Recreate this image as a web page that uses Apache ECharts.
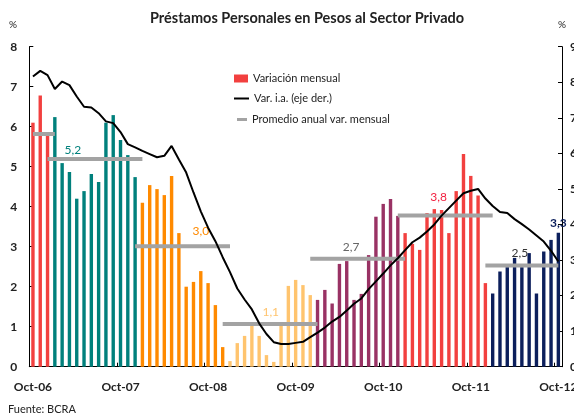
<!DOCTYPE html>
<html>
<head>
<meta charset="utf-8">
<script src="https://cdn.jsdelivr.net/npm/echarts@6/dist/echarts.min.js"></script>
<style>
  html, body { margin: 0; padding: 0; background: #fff; }
  #chart { width: 574px; height: 419px; }
</style>
</head>
<body>
<div id="chart"></div>
<script>
// months Oct-06 .. Oct-12
const years = ['2006', '2007', '2008', '2009', '2010', '2011', '2012']
const monthAbbr = ['Jan', 'Feb', 'Mar', 'Apr', 'May', 'Jun', 'Jul', 'Aug', 'Sep', 'Oct', 'Nov', 'Dec']

// Variación mensual (%), one list per year
const var2006 = [6.10, 6.78, 5.87]
const var2007 = [6.24, 5.09, 4.87, 4.20, 4.39, 4.82, 4.62, 6.10, 6.29, 5.67, 5.29, 4.74]
const var2008 = [4.10, 4.54, 4.44, 4.29, 4.77, 3.34, 2.00, 2.12, 2.39, 2.09, 1.54, 0.49]
const var2009 = [0.14, 0.59, 0.77, 1.03, 0.77, 0.29, 0.12, 1.03, 2.02, 2.17, 2.04, 1.79]
const var2010 = [1.67, 1.92, 1.58, 2.57, 2.64, 1.67, 1.82, 2.79, 3.75, 4.07, 4.19, 3.77]
const var2011 = [3.34, 3.07, 2.92, 3.84, 3.94, 3.92, 3.34, 4.39, 5.32, 4.77, 4.28, 2.09]
const var2012 = [1.83, 2.38, 2.49, 2.72, 2.49, 2.84, 1.83, 2.88, 3.17, 3.35]
const monthlyByYear = [var2006, var2007, var2008, var2009, var2010, var2011, var2012]

// Var. i.a. (eje der.)
const yoy2006 = [8.16, 8.32, 8.20]
const yoy2007 = [7.81, 8.02, 7.92, 7.60, 7.31, 7.29, 7.13, 6.90, 6.85, 6.60, 6.26, 6.17]
const yoy2008 = [6.07, 5.98, 5.89, 5.93, 6.21, 5.83, 5.46, 4.90, 4.37, 3.91, 3.53, 3.08]
const yoy2009 = [2.66, 2.20, 1.89, 1.61, 1.22, 0.92, 0.69, 0.64, 0.64, 0.67, 0.70, 0.83]
const yoy2010 = [0.96, 1.10, 1.27, 1.40, 1.58, 1.77, 1.92, 2.18, 2.40, 2.62, 2.85, 3.05]
const yoy2011 = [3.28, 3.50, 3.63, 3.80, 4.00, 4.25, 4.46, 4.67, 4.88, 4.95, 5.00, 4.73]
const yoy2012 = [4.52, 4.35, 4.32, 4.15, 4.01, 3.86, 3.69, 3.52, 3.26, 2.96]
const yoyByYear = [yoy2006, yoy2007, yoy2008, yoy2009, yoy2010, yoy2011, yoy2012]

// Promedio anual var. mensual
const avgValues = [5.82, 5.19, 3.01, 1.07, 2.70, 3.78, 2.53]
const avgLabels = ['', '5,2', '3,0', '1,1', '2,7', '3,8', '2,5']
const lastBarLabel = '3,3'

// colors per year
const yearColors = ['#f2403f', '#00807c', '#ff8a00', '#ffc46e', '#993264', '#f2403f', '#0c1f5c']
const avgLabelColors = ['#888', '#00807c', '#ff8a00', '#ffc46e', '#666666', '#f2203f', '#333333']
// where each avg label sits: category index, x offset, distance above line
const avgLabelPos = [null, [5, 3.5, 3], [23, 0, 9], [33, -3, 6], [44, -3, 6], [56, -3, 12], [67, -2, 6]]

const months = []
const barData = []
const yoyData = []
const yearRanges = []

monthlyByYear.forEach((vals, y) => {
  const firstMonth = y === 0 ? 9 : 0
  const start = months.length
  vals.forEach((v, i) => {
    months.push(monthAbbr[firstMonth + i] + '-' + years[y].slice(2))
    barData.push({ value: v, itemStyle: { color: yearColors[y] } })
    yoyData.push(yoyByYear[y][i])
  })
  yearRanges.push([start, months.length - 1])
})

// label on last bar
barData[barData.length - 1].label = {
  show: true,
  position: 'top',
  distance: 4,
  formatter: lastBarLabel,
  color: '#0c1f5c',
  fontWeight: 'bold',
  fontSize: 12
}

const n = months.length
const avgSeries = avgValues.map((v, y) => {
  const [s, e] = yearRanges[y]
  const from = Math.max(0, s - 1)
  const to = Math.min(n - 1, e + 1)
  const data = months.map((m, i) => (i >= from && i <= to ? v : null))
  const pos = avgLabelPos[y]
  if (pos) {
    data[pos[0]] = {
      value: v,
      label: {
        show: true,
        position: 'top',
        distance: pos[2],
        offset: [pos[1], 0],
        formatter: avgLabels[y],
        color: avgLabelColors[y],
        fontSize: 12
      }
    }
  }
  return {
    name: 'Promedio anual var. mensual',
    type: 'line',
    data,
    symbol: 'circle',
    symbolSize: 0,
    showSymbol: true,
    showAllSymbol: true,
    connectNulls: false,
    lineStyle: { color: '#a3a3a3', width: 4 },
    itemStyle: { color: '#a3a3a3' },
    z: 3,
    silent: true
  }
})

const chart = echarts.init(document.getElementById('chart'))

const legendText = { fontSize: 11, color: '#222' }

const option = {
  animation: false,
  textStyle: { fontFamily: 'Lato, "Open Sans", sans-serif' },
  title: [
    {
      text: 'Préstamos Personales en Pesos al Sector Privado',
      left: 150,
      top: 11,
      padding: 0,
      textStyle: { fontSize: 14.5, fontWeight: 'bold', color: '#222' }
    },
    { text: '%', left: 9, top: 20, padding: 0, textStyle: { fontSize: 10, fontWeight: 'normal', color: '#222' } },
    { text: '%', left: 558, top: 20, padding: 0, textStyle: { fontSize: 10, fontWeight: 'normal', color: '#222' } },
    { text: 'Fuente: BCRA', left: 8, top: 404, padding: 0, textStyle: { fontSize: 11, fontWeight: 'normal', color: '#222' } }
  ],
  legend: [
    {
      left: 234, top: 73, padding: 0,
      itemWidth: 14, itemHeight: 8,
      icon: 'rect',
      textStyle: legendText,
      data: ['Variación mensual']
    },
    {
      left: 234, top: 93, padding: 0,
      itemWidth: 15, itemHeight: 2,
      icon: 'rect',
      textStyle: legendText,
      data: ['Var. i.a. (eje der.)']
    },
    {
      left: 237, top: 114, padding: 0,
      itemWidth: 10, itemHeight: 3,
      icon: 'rect',
      textStyle: legendText,
      data: ['Promedio anual var. mensual']
    }
  ],
  grid: { left: 29.3, right: 12, top: 46.7, bottom: 52.3, containLabel: false, outerBoundsMode: 'none' },
  xAxis: {
    type: 'category',
    data: months,
    boundaryGap: true,
    axisLine: { lineStyle: { color: '#000', width: 1 } },
    axisTick: {
      show: true,
      inside: true,
      length: 4,
      interval: (i) => i % 12 === 0,
      lineStyle: { color: '#000' }
    },
    axisLabel: {
      interval: 11,
      margin: 14,
      fontSize: 12,
      fontWeight: 'bold',
      color: '#222'
    }
  },
  yAxis: [
    {
      type: 'value',
      min: 0,
      max: 8,
      interval: 1,
      position: 'left',
      axisLine: { show: true, lineStyle: { color: '#000' } },
      axisTick: { show: true, inside: true, length: 4, lineStyle: { color: '#000' } },
      splitLine: { show: false },
      axisLabel: { margin: 12, fontSize: 12, fontWeight: 'bold', color: '#222' }
    },
    {
      type: 'value',
      min: 0,
      max: 9,
      interval: 1,
      position: 'right',
      axisLine: { show: true, lineStyle: { color: '#000' } },
      axisTick: { show: true, inside: true, length: 4, lineStyle: { color: '#000' } },
      splitLine: { show: false },
      axisLabel: { margin: 8, fontSize: 12, fontWeight: 'bold', color: '#222' }
    }
  ],
  series: [
    {
      name: 'Variación mensual',
      type: 'bar',
      data: barData,
      barWidth: 3.4,
      itemStyle: { color: '#f2403f' },
      z: 2
    },
    ...avgSeries,
    {
      name: 'Var. i.a. (eje der.)',
      type: 'line',
      yAxisIndex: 1,
      data: yoyData,
      symbol: 'none',
      lineStyle: { color: '#000', width: 2 },
      itemStyle: { color: '#000' },
      z: 4
    }
  ]
}

chart.setOption(option)
</script>
</body>
</html>
